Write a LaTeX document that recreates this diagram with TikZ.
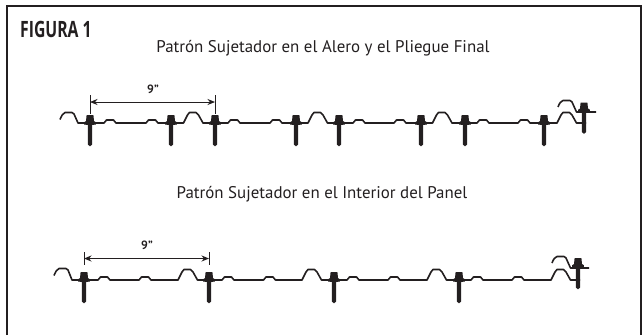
\documentclass[tikz,border=0pt]{standalone}
\usepackage{fontspec}
\setmainfont{PT Sans}
\newfontfamily\headfont{Open Sans}
\usetikzlibrary{arrows.meta}
\definecolor{ink}{HTML}{231F20}
\newcommand\lrib[2]{-- (#1,#2) -- ({#1+2.5},{#2-3}) -- ({#1+9.5},{#2-3}) -- ({#1+12},#2)}
\newcommand\hrib[2]{-- (#1,#2) -- ({#1+4},{#2-8}) -- ({#1+6},{#2-10.5}) -- ({#1+12.5},{#2-10.5}) -- ({#1+15},{#2-8}) -- ({#1+19.5},#2)}
\tikzset{
  x=1pt,y=-1pt,
  frameline/.style={draw=ink,line width=2pt,line join=miter},
  sheet/.style={draw=ink,line width=1.6pt,line join=round,line cap=butt},
  dimline/.style={draw=ink,line width=.9pt,{Stealth[length=7.5pt,width=6pt]}-{Stealth[length=7.5pt,width=6pt]}},
  tickline/.style={draw=ink,line width=.9pt},
  titletext/.style={text=ink,font=\fontsize{16.9}{19}\selectfont,inner sep=0pt,anchor=base},
  dimtext/.style={text=ink,font=\fontsize{12}{14}\selectfont\bfseries,inner sep=0pt,anchor=base},
  pics/fastener/.style={code={
    \fill[ink] (-3.4,-8) -- (3.4,-8) -- (4,-2) -- (5.8,-.8) -- (5.8,1.5) -- (2.2,2) -- (2.2,21.5) -- (0,23.3) -- (-2.2,21.5) -- (-2.2,2) -- (-5.8,1.5) -- (-5.8,-.8) -- (-4,-2) -- cycle;
  }}
}
\begin{document}
\begin{tikzpicture}
\useasboundingbox (0,0) rectangle (644,335);
\draw[frameline] (7,335) -- (7,5.5) -- (640.5,5.5) -- (640.5,335);
\node[inner sep=0pt,anchor=base west,text=ink,xscale=.70,font=\headfont\fontsize{22.5}{25}\selectfont\bfseries] (fig) at (20,37) {FIGURA 1};
\node[titletext] (title1) at (323,52) {Patrón Sujetador en el Alero y el Pliegue Final};
\node[titletext] (title2) at (322,198) {Patrón Sujetador en el Interior del Panel};
% row 1
\draw[sheet] (60,119.5) .. controls (61.5,116) and (63,113) .. (65,112.5) -- (72,112.5) -- (74,114) -- (78,123)
  \lrib{104}{123} \lrib{146}{123} \hrib{183.5}{123} \lrib{228}{123} \lrib{270}{123} \hrib{308}{123} \lrib{353}{123} \lrib{394}{123} \hrib{432.5}{123} \lrib{477}{123} \lrib{518}{123} \hrib{557}{123} -- (586,123);
\draw[sheet] (558,107) .. controls (559.5,103) and (561,101) .. (563,100.5) -- (570,100.5) -- (572,102) -- (576.5,112) -- (596,112);
\foreach \n/\px/\py in {a/90/123,b/171/123,c/215/123,d/296/123,e/339/123,f/421/123,g/465/123,h/544/123,i/584/110.5}
  \pic at (\px,\py) {fastener};
\coordinate (p1) at (90,114);
\coordinate (q1) at (215,114);
\coordinate (pt1) at (90,95);
\coordinate (qt1) at (215,95);
\coordinate (pa1) at (90,102);
\coordinate (qa1) at (215,102);
\draw[tickline] (pt1) -- (p1);
\draw[tickline] (qt1) -- (q1);
\draw[dimline] (pa1) -- (qa1);
\node[dimtext] (nine1) at (153,93.3) {9"};
% row 2
\draw[sheet] (54,275.5) .. controls (55.5,272) and (57,269) .. (59,268.5) -- (66,268.5) -- (68,270) -- (72,280)
  \lrib{98}{280} \lrib{139}{280} \hrib{178}{280} \lrib{222}{280} \lrib{263.5}{280} \hrib{302}{280} \lrib{347}{280} \lrib{388}{280} \hrib{427}{280} \lrib{471}{280} \lrib{512}{280} \hrib{551}{280} -- (580,280);
\draw[sheet] (552,263) .. controls (553.5,259) and (555,257) .. (557,256.5) -- (564,256.5) -- (566,258) -- (570.5,268) -- (589,268);
\foreach \n/\px/\py in {j/84/280,k/209/280,l/334/280,m/459/280,n/578/266}
  \pic at (\px,\py) {fastener};
\coordinate (p2) at (84,265);
\coordinate (q2) at (209,265);
\coordinate (pt2) at (84,252);
\coordinate (qt2) at (209,252);
\coordinate (pa2) at (84,258.5);
\coordinate (qa2) at (209,258.5);
\draw[tickline] (pt2) -- (p2);
\draw[tickline] (qt2) -- (q2);
\draw[dimline] (pa2) -- (qa2);
\node[dimtext] (nine2) at (147,249) {9"};
\end{tikzpicture}
\end{document}
